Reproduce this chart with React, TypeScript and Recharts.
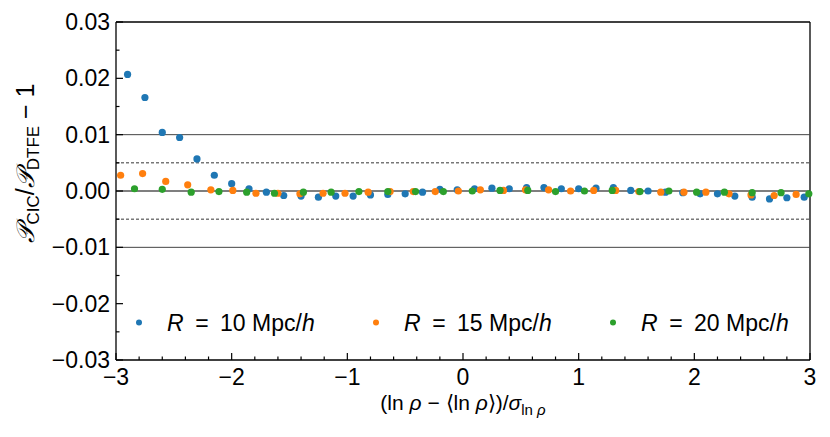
import { ScatterChart, Scatter, XAxis, YAxis, ReferenceLine } from 'recharts';

// bin centres and residuals
const blueX = [
  -2.9, -2.75, -2.6, -2.45, -2.3, -2.15, -2.0, -1.85, -1.7, -1.55, -1.4, -1.25, -1.1, -0.95,
  -0.8, -0.65, -0.5, -0.35, -0.2, -0.05, 0.1, 0.25, 0.4, 0.55, 0.7, 0.85, 1.0, 1.15, 1.3, 1.45,
  1.6, 1.75, 1.9, 2.05, 2.2, 2.35, 2.5, 2.65, 2.8, 2.95,
];
const blueY = [
  0.0207, 0.0166, 0.0104, 0.0095, 0.0057, 0.0028, 0.0013, 0.0004, -0.0002, -0.0008, -0.0009,
  -0.0011, -0.0009, -0.0009, -0.0007, -0.0006, -0.0005, -0.0002, 0.0003, 0.0002, 0.0004, 0.0005,
  0.0004, 0.0006, 0.0006, 0.0004, 0.0004, 0.0005, 0.0006, 0.0001, 0.0, -0.0002, -0.0003, -0.0005,
  -0.0005, -0.0009, -0.0011, -0.0014, -0.0012, -0.0011,
];

const orangeX = [
  -2.96, -2.77, -2.57, -2.38, -2.18, -1.99, -1.79, -1.6, -1.41, -1.21, -1.02, -0.82, -0.63, -0.43,
  -0.24, -0.04, 0.15, 0.35, 0.54, 0.74, 0.93, 1.13, 1.32, 1.52, 1.71, 1.91, 2.1, 2.3, 2.49, 2.69,
  2.88,
];
const orangeY = [
  0.0028, 0.0031, 0.0017, 0.0011, 0.0002, 0.0001, -0.0004, -0.0004, -0.0005, -0.0004, -0.0004,
  -0.0002, -0.0001, -0.0001, -0.0001, 0.0, 0.0002, 0.0001, 0.0002, 0.0002, 0.0, 0.0001, 0.0001,
  -0.0001, -0.0002, -0.0002, -0.0002, -0.0005, -0.0007, -0.0008, -0.0006,
];

const greenX = [
  -2.84, -2.6, -2.35, -2.11, -1.87, -1.63, -1.38, -1.14, -0.9, -0.65, -0.41, -0.17, 0.08, 0.32,
  0.56, 0.8, 1.05, 1.29, 1.53, 1.78, 2.02, 2.26, 2.5, 2.75, 2.99,
];
const greenY = [
  0.0004, 0.0003, -0.0002, -0.0001, -0.0002, -0.0004, -0.0002, -0.0002, -0.0001, -0.0001, -0.0001,
  -0.0001, 0.0, 0.0001, 0.0001, -0.0001, 0.0, 0.0001, -0.0001, 0.0, -0.0002, -0.0002, -0.0003,
  -0.0003, -0.0005,
];

const radii = [10, 15, 20];
const colors = ['#1f77b4', '#ff7f0e', '#2ca02c'];

const xTicks = [
  -3, -2.8, -2.6, -2.4, -2.2, -2, -1.8, -1.6, -1.4, -1.2, -1, -0.8, -0.6, -0.4, -0.2, 0, 0.2, 0.4,
  0.6, 0.8, 1, 1.2, 1.4, 1.6, 1.8, 2, 2.2, 2.4, 2.6, 2.8, 3,
];
const yTicks = [
  -0.03, -0.025, -0.02, -0.015, -0.01, -0.005, 0, 0.005, 0.01, 0.015, 0.02, 0.025, 0.03,
];

const FONT = '"Liberation Sans", Arial, sans-serif';

const toPoints = (xs: number[], ys: number[]) => xs.map((x, i) => ({ x, y: ys[i] }));
const series = [toPoints(blueX, blueY), toPoints(orangeX, orangeY), toPoints(greenX, greenY)];

const minus = (s: string) => s.replace('-', '\u2212');

function XTick(props: any) {
  const { x, y, payload } = props;
  const v = payload.value;
  const major = Math.abs(v - Math.round(v)) < 1e-6;
  return (
    <g>
      <line x1={x} x2={x} y1={y} y2={y - (major ? 7 : 3.5)} stroke="#000" strokeWidth={1.2} />
      {major && (
        <text x={x} y={y + 25} textAnchor="middle" fontSize={23} fontFamily={FONT} fill="#000">
          {minus(String(Math.round(v)))}
        </text>
      )}
    </g>
  );
}

function YTick(props: any) {
  const { x, y, payload } = props;
  const v = payload.value;
  const major = Math.abs(v * 100 - Math.round(v * 100)) < 1e-6;
  return (
    <g>
      <line x1={x} x2={x + (major ? 7 : 3.5)} y1={y} y2={y} stroke="#000" strokeWidth={1.2} />
      {major && (
        <text x={x - 6} y={y + 8} textAnchor="end" fontSize={23} fontFamily={FONT} fill="#000">
          {minus((Math.round(v * 100) / 100).toFixed(2))}
        </text>
      )}
    </g>
  );
}

const dot = (color: string) => (props: any) => (
  <circle cx={props.cx} cy={props.cy} r={3.6} fill={color} />
);

export default function App() {
  return (
    <div style={{ position: 'relative', width: 830, height: 437, background: '#fff' }}>
      <style>{'body{margin:0}'}</style>
      <ScatterChart width={830} height={437} margin={{ top: 22, right: 20, bottom: 0, left: 0 }}>
        <XAxis
          type="number"
          dataKey="x"
          domain={[-3, 3]}
          ticks={xTicks}
          interval={0}
          tickSize={0}
          tickMargin={0}
          height={77}
          tick={(p: any) => <XTick {...p} />}
          axisLine={{ stroke: '#000', strokeWidth: 1.3 }}
        />
        <YAxis
          type="number"
          dataKey="y"
          domain={[-0.03, 0.03]}
          ticks={yTicks}
          interval={0}
          tickSize={0}
          tickMargin={0}
          width={116}
          tick={(p: any) => <YTick {...p} />}
          axisLine={{ stroke: '#000', strokeWidth: 1.3 }}
        />
        <ReferenceLine y={0.03} stroke="#000" strokeWidth={1.3} />
        <ReferenceLine x={3} stroke="#000" strokeWidth={1.3} />
        <ReferenceLine y={0.01} stroke="#444" strokeWidth={1} />
        <ReferenceLine y={-0.01} stroke="#444" strokeWidth={1} />
        <ReferenceLine y={0.005} stroke="#000" strokeWidth={0.8} strokeDasharray="3 2" />
        <ReferenceLine y={-0.005} stroke="#000" strokeWidth={0.8} strokeDasharray="3 2" />
        <ReferenceLine y={0} stroke="#000" strokeWidth={1.2} />
        {series.map((d, i) => (
          <Scatter
            key={radii[i]}
            name={`R = ${radii[i]} Mpc/h`}
            data={d}
            fill={colors[i]}
            shape={dot(colors[i])}
            isAnimationActive={false}
          />
        ))}
      </ScatterChart>
      <svg
        width={830}
        height={437}
        style={{ position: 'absolute', left: 0, top: 0, pointerEvents: 'none' }}
      >
        {/* legend */}
        {radii.map((r, i) => (
          <g key={r}>
            <circle cx={139 + i * 237} cy={322.5} r={3} fill={colors[i]} />
            <text x={167 + i * 237} y={331} fontSize={23} fontFamily={FONT} fill="#000">
              <tspan fontStyle="italic">R</tspan>
              {'\u2002=\u2002'}
              {r} Mpc/<tspan fontStyle="italic">h</tspan>
            </text>
          </g>
        ))}
        <text
          transform="translate(34,163) rotate(-90)"
          textAnchor="middle"
          fontSize={25}
          fontFamily={FONT}
          fill="#000"
        >
          <tspan fontStyle="italic">𝒫</tspan>
          <tspan fontSize={17} dy={5}>CIC</tspan>
          <tspan dy={-5}>/</tspan>
          <tspan fontStyle="italic">𝒫</tspan>
          <tspan fontSize={17} dy={5}>DTFE</tspan>
          <tspan dy={-5}>{' \u2212 1'}</tspan>
        </text>
        <text x={463} y={410} textAnchor="middle" fontSize={21} fontFamily={FONT} fill="#000">
          (ln <tspan fontStyle="italic">ρ</tspan> {'\u2212'} {'\u27E8'}ln{' '}
          <tspan fontStyle="italic">ρ</tspan>
          {'\u27E9'})/<tspan fontStyle="italic">σ</tspan>
          <tspan fontSize={15} dy={5}>
            ln <tspan fontStyle="italic">ρ</tspan>
          </tspan>
        </text>
      </svg>
    </div>
  );
}
